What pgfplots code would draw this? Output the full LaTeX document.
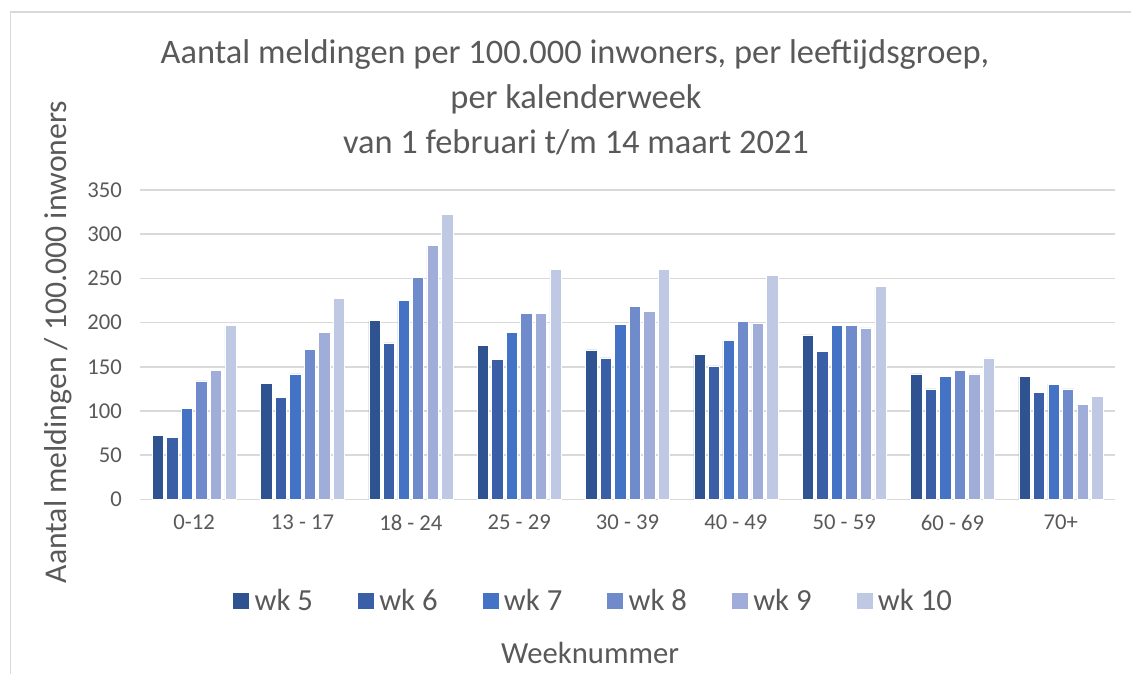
\documentclass[border=0pt]{standalone}
\usepackage{pgfplots}
\pgfplotsset{compat=1.18}
\usepackage{fontspec}
\setmainfont{Carlito}
\definecolor{wkA}{HTML}{2F5290}
\definecolor{wkB}{HTML}{3A5FA7}
\definecolor{wkC}{HTML}{4472C4}
\definecolor{wkD}{HTML}{708BCC}
\definecolor{wkE}{HTML}{9FADD8}
\definecolor{wkF}{HTML}{BFC9E4}
\definecolor{gridgrey}{HTML}{D9D9D9}
\definecolor{txtgrey}{HTML}{595959}
\begin{document}
\begin{tikzpicture}
\useasboundingbox (0,0) rectangle (848.25pt,-505.5pt);
\draw[gridgrey, line width=1.1pt] (8pt,-510pt) -- (8pt,-9pt) -- (852pt,-9pt);
\node[anchor=base, text=txtgrey, font=\fontsize{25.8}{30}\selectfont] at (431.25pt,-47.5pt) {Aantal meldingen per 100.000 inwoners, per leeftijdsgroep,};
\node[anchor=base, text=txtgrey, font=\fontsize{25.8}{30}\selectfont] at (432pt,-81.2pt) {per kalenderweek};
\node[anchor=base, text=txtgrey, font=\fontsize{25.8}{30}\selectfont] at (432pt,-115pt) {van 1 februari t/m 14 maart 2021};
\node[anchor=base, rotate=90, text=txtgrey, font=\fontsize{23.8}{26}\selectfont] at (49.5pt,-256.5pt) {Aantal meldingen / 100.000 inwoners};
\node[anchor=center, text=txtgrey, font=\fontsize{23}{26}\selectfont] at (442.5pt,-490pt) {Weeknummer};
\begin{axis}[
  at={(105pt,-374.5pt)}, anchor=south west,
  scale only axis, width=731.25pt, height=232pt,
  ymin=0, ymax=350, xmin=-0.5, xmax=8.5,
  ybar=2.4pt, bar width=8.5pt,
  axis line style={draw=none},
  ymajorgrids, grid style={gridgrey, line width=1.1pt},
  major tick length=0pt, tick style={draw=none},
  ytick={0,50,...,350},
  xtick={0,...,8},
  xticklabels={0-12, 13 - 17, 18 - 24, 25 - 29, 30 - 39, 40 - 49, 50 - 59, 60 - 69, 70+},
  tick label style={font=\fontsize{17}{20}\selectfont, text=txtgrey},
  yticklabel style={xshift=-10pt},
  xticklabel style={yshift=-8pt},
  /pgf/number format/assume math mode=true,
  legend columns=6,
  legend style={at={(0.0954,-0.329)}, anchor=west, draw=none, fill=none, inner sep=0pt,
    font=\fontsize{23}{26}\selectfont, text=txtgrey, column sep=0pt,
    nodes={inner xsep=4pt}},
  legend image code/.code={\path[#1, draw=none] (0pt,-6pt) rectangle (12pt,6pt);},
  every axis plot/.append style={draw=white, line width=0.5pt},
]
\addplot[fill=wkA] coordinates {(0,72) (1,131) (2,202) (3,174) (4,169) (5,164) (6,186) (7,142) (8,139)};
\addplot[fill=wkB] coordinates {(0,70) (1,115) (2,177) (3,158) (4,160) (5,151) (6,167) (7,125) (8,121)};
\addplot[fill=wkC] coordinates {(0,103) (1,142) (2,225) (3,189) (4,198) (5,180) (6,197) (7,139) (8,130)};
\addplot[fill=wkD] coordinates {(0,134) (1,170) (2,251) (3,210) (4,218) (5,201) (6,197) (7,146) (8,125)};
\addplot[fill=wkE] coordinates {(0,146) (1,189) (2,287) (3,210) (4,213) (5,199) (6,194) (7,142) (8,107)};
\addplot[fill=wkF] coordinates {(0,197) (1,227) (2,322) (3,260) (4,260) (5,253) (6,241) (7,160) (8,116)};
\legend{\makebox[73.5pt][l]{wk 5}, \makebox[73.5pt][l]{wk 6}, \makebox[73.5pt][l]{wk 7}, \makebox[73.5pt][l]{wk 8}, \makebox[73.5pt][l]{wk 9}, \makebox[73.5pt][l]{wk 10}}
\end{axis}
\end{tikzpicture}
\end{document}
